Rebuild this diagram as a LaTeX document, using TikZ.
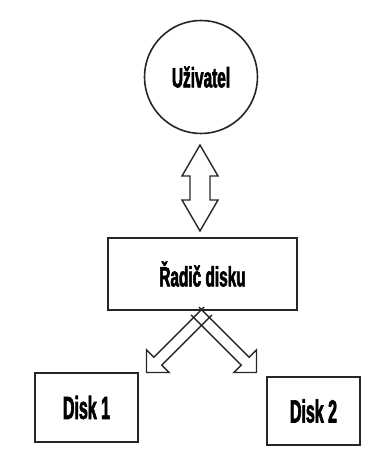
\documentclass[tikz,border=0pt]{standalone}
\usepackage{fontspec}
\newfontfamily\condfont[FakeStretch=0.55,FakeBold=2]{Liberation Sans Bold}
\newfontfamily\narrowfont[FakeStretch=0.5,FakeBold=2]{Liberation Sans Bold}
\begin{document}
\begin{tikzpicture}[x=1pt,y=1pt,
  shape line/.style={line width=1.6pt, draw=black!85},
  label font/.style={font=\condfont\fontsize{28}{30}\selectfont},
  disk font/.style={font=\narrowfont\fontsize{32}{34}\selectfont},
  box/.style={shape line, rectangle, inner sep=0pt},
  blockarrow/.style={line width=1.4pt, draw=black!85, line join=miter}]
\useasboundingbox (0,0) rectangle (371,-449);
% nodes
\node[shape line, circle, minimum size=113pt, inner sep=0pt, label font] (user) at (201,-77) {Uživatel};
\node[box, label font, minimum width=189pt, minimum height=72pt] (ctrl) at (202.5,-274) {Řadič disku};
\node[box, disk font, minimum width=103pt, minimum height=69pt] (d1) at (86.5,-407.5) {Disk 1};
\node[box, disk font, minimum width=93pt, minimum height=68pt] (d2) at (313.5,-411) {Disk 2};
% double arrow between user and controller
\coordinate (da) at (200,-145);
\coordinate (db) at (200,-231);
\draw[blockarrow] (da) -- ++(18,-31) -- ++(-8,0) -- ++(0,-24) -- ++(8,0) -- (db)
  -- ++(-18,31) -- ++(8,0) -- ++(0,24) -- ++(-8,0) -- cycle;
% crossed block arrows
\coordinate (s1) at (195,-311);
\coordinate (s2) at (208,-311);
\begin{scope}[shift={(s1)}, rotate=-45]
  \draw[blockarrow] (0,5.5) -- (71,5.5) -- (71,16) -- (87,0) -- (71,-16) -- (71,-5.5) -- (0,-5.5);
\end{scope}
\begin{scope}[shift={(s2)}, rotate=-135]
  \draw[blockarrow] (0,5.5) -- (71,5.5) -- (71,16) -- (87,0) -- (71,-16) -- (71,-5.5) -- (0,-5.5);
\end{scope}
\end{tikzpicture}
\end{document}
